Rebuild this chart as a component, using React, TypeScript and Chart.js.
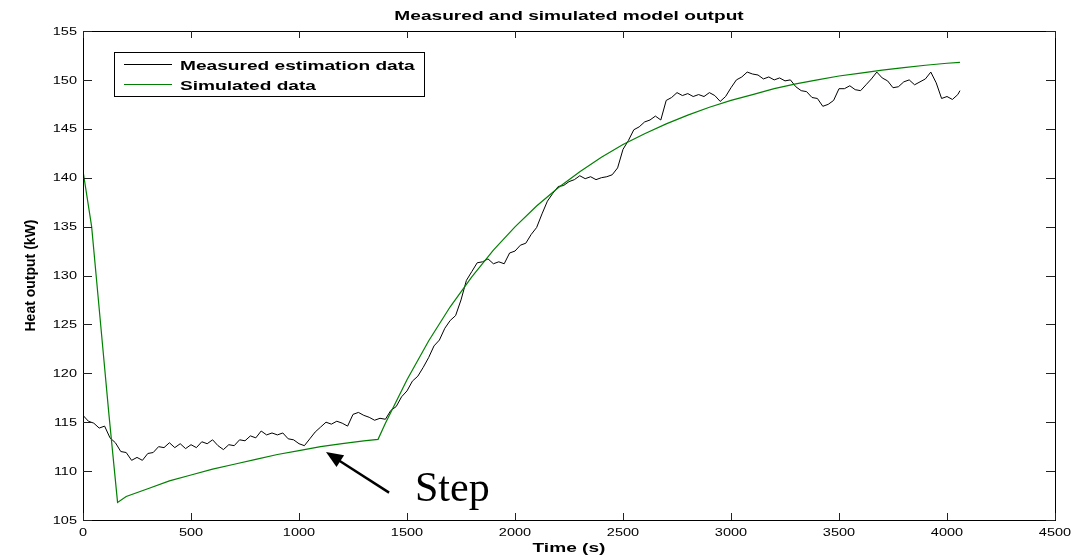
import React, { useEffect, useRef } from "react";
import { Chart, registerables } from "chart.js";

Chart.register(...registerables);

// ---------- data ----------
const measuredTime = [
  0, 25, 50, 75, 100, 125, 150, 175, 200, 225, 250, 275, 300, 325, 350, 375, 400, 425, 450, 475,
  500, 525, 550, 575, 600, 625, 650, 675, 700, 725, 750, 775, 800, 825, 850, 875, 900, 925, 950, 975,
  1000, 1025, 1050, 1075, 1100, 1125, 1150, 1175, 1200, 1225, 1250, 1275, 1300, 1325, 1350, 1375, 1400, 1425, 1450, 1475,
  1500, 1525, 1550, 1575, 1600, 1625, 1650, 1675, 1700, 1725, 1750, 1775, 1800, 1825, 1850, 1875, 1900, 1925, 1950, 1975,
  2000, 2025, 2050, 2075, 2100, 2125, 2150, 2175, 2200, 2225, 2250, 2275, 2300, 2325, 2350, 2375, 2400, 2425, 2450, 2475,
  2500, 2525, 2550, 2575, 2600, 2625, 2650, 2675, 2700, 2725, 2750, 2775, 2800, 2825, 2850, 2875, 2900, 2925, 2950, 2975,
  3000, 3025, 3050, 3075, 3100, 3125, 3150, 3175, 3200, 3225, 3250, 3275, 3300, 3325, 3350, 3375, 3400, 3425, 3450, 3475,
  3500, 3525, 3550, 3575, 3600, 3625, 3650, 3675, 3700, 3725, 3750, 3775, 3800, 3825, 3850, 3875, 3900, 3925, 3950, 3975,
  4000, 4025, 4050, 4060,
];

const measuredHeat = [
  115.7, 115.1, 114.9, 114.4, 114.6, 113.4, 112.9, 112.0, 111.9, 111.1, 111.4, 111.1, 111.8, 111.9, 112.5, 112.4, 112.9, 112.4, 112.8, 112.3,
  112.7, 112.4, 113.0, 112.8, 113.2, 112.6, 112.2, 112.7, 112.6, 113.2, 113.1, 113.6, 113.4, 114.1, 113.7, 113.9, 113.7, 113.9, 113.3, 113.2,
  112.8, 112.6, 113.3, 114.0, 114.5, 115.0, 114.8, 115.1, 114.9, 114.6, 115.8, 116.0, 115.7, 115.5, 115.2, 115.4, 115.3, 116.2, 116.6, 117.6,
  118.2, 119.2, 119.7, 120.6, 121.6, 122.8, 123.4, 124.6, 125.4, 125.9, 127.5, 129.5, 130.4, 131.3, 131.4, 131.7, 131.2, 131.4, 131.2, 132.3,
  132.5, 133.1, 133.3, 134.2, 134.9, 136.3, 137.6, 138.4, 139.1, 139.2, 139.6, 139.8, 140.2, 139.9, 140.1, 139.8, 140.0, 140.1, 140.3, 141.0,
  142.9, 143.8, 144.9, 145.2, 145.7, 145.9, 146.3, 145.9, 147.9, 148.2, 148.7, 148.4, 148.6, 148.3, 148.5, 148.3, 148.7, 148.4, 147.8, 148.3,
  149.2, 150.0, 150.3, 150.8, 150.6, 150.5, 150.1, 150.3, 150.0, 150.2, 149.9, 150.0, 149.3, 148.9, 148.8, 148.2, 148.1, 147.3, 147.5, 147.9,
  149.1, 149.1, 149.4, 149.0, 148.9, 149.5, 150.1, 150.8, 150.2, 149.9, 149.2, 149.3, 149.8, 150.0, 149.5, 149.8, 150.1, 150.8, 149.7, 148.1,
  148.3, 148.0, 148.5, 148.9,
];

const simulatedTime = [
  0, 40, 80, 120, 160, 200, 300, 400, 500, 600, 700, 800, 900, 1000, 1100, 1200, 1300, 1366,
  1400, 1500, 1600, 1700, 1800, 1900, 2000, 2100, 2200, 2300, 2400, 2500, 2600, 2700, 2800, 2900,
  3000, 3100, 3200, 3300, 3400, 3500, 3600, 3700, 3800, 3900, 4000, 4060,
];

const simulatedHeat = [
  140.7, 135.0, 125.4, 115.8, 106.8, 107.4, 108.2, 109.0, 109.6, 110.2, 110.7, 111.2, 111.7, 112.1, 112.5, 112.8, 113.1, 113.25,
  114.9, 119.35, 123.3, 126.8, 129.85, 132.6, 134.97, 137.1, 138.97, 140.6, 142.1, 143.4, 144.5, 145.5, 146.4, 147.2,
  147.9, 148.5, 149.1, 149.6, 150.0, 150.4, 150.7, 151.0, 151.25, 151.5, 151.7, 151.8,
];

const xMin = 0;
const xMax = 4500;
const xStep = 500;
const yMin = 105;
const yMax = 155;
const yStep = 5;

const chartTitle = "Measured and simulated model output";
const xAxisTitle = "Time (s)";
const yAxisTitle = "Heat output (kW)";
const legendLabels = ["Measured estimation data", "Simulated data"];
const seriesColors = ["#000000", "#008000"];

const annotationText = "Step";
const arrowTip = { x: 1125, y: 111.95 };
const arrowTail = { x: 1417, y: 107.8 };
const annotationAnchor = { x: 1537, y: 106.95 };

// ---------- drawing helpers ----------
const SANS = '"Liberation Sans", Arial, Helvetica, sans-serif';
const SERIF = '"Liberation Serif", "Times New Roman", serif';
const STRETCH = 1.47; // the reference is horizontally stretched

function stretchedText(
  ctx: CanvasRenderingContext2D,
  text: string,
  x: number,
  y: number,
  align: CanvasTextAlign,
  baseline: CanvasTextBaseline,
  font: string,
  sx = STRETCH,
  rotate = 0
) {
  ctx.save();
  ctx.translate(x, y);
  ctx.scale(sx, 1);
  if (rotate) ctx.rotate(rotate);
  ctx.font = font;
  ctx.textAlign = align;
  ctx.textBaseline = baseline;
  ctx.fillStyle = "#000";
  ctx.fillText(text, 0, 0);
  ctx.restore();
}

const matlabFrame = {
  id: "matlabFrame",
  afterDraw(chart: any) {
    const { ctx, chartArea } = chart;
    const { left, right, top, bottom } = chartArea;
    const xs = chart.scales.x;
    const ys = chart.scales.y;

    ctx.save();
    // axes box
    ctx.strokeStyle = "#000";
    ctx.lineWidth = 1;
    ctx.strokeRect(Math.round(left) + 0.5, Math.round(top) + 0.5, Math.round(right - left), Math.round(bottom - top));

    // inward ticks on all four sides
    ctx.strokeStyle = "#222";
    ctx.beginPath();
    xs.ticks.forEach((t: any) => {
      const px = Math.round(xs.getPixelForValue(t.value)) + 0.5;
      ctx.moveTo(px, bottom);
      ctx.lineTo(px, bottom - 7);
      ctx.moveTo(px, top);
      ctx.lineTo(px, top + 7);
    });
    ys.ticks.forEach((t: any) => {
      const py = Math.round(ys.getPixelForValue(t.value)) + 0.5;
      ctx.moveTo(left, py);
      ctx.lineTo(left + 9, py);
      ctx.moveTo(right, py);
      ctx.lineTo(right - 9, py);
    });
    ctx.stroke();

    // tick labels
    const tickFont = `10px ${SANS}`;
    xs.ticks.forEach((t: any) => {
      const px = xs.getPixelForValue(t.value);
      stretchedText(ctx, String(t.value), px, bottom + 16, "center", "alphabetic", tickFont, 1.45);
    });
    ys.ticks.forEach((t: any) => {
      const py = ys.getPixelForValue(t.value);
      stretchedText(ctx, String(t.value), left - 6, py + 3.6, "right", "alphabetic", tickFont, 1.45);
    });

    // titles
    const boldFont = `bold 13px ${SANS}`;
    const cx = (left + right) / 2;
    const cy = (top + bottom) / 2;
    stretchedText(ctx, chartTitle, cx, 19.5, "center", "alphabetic", boldFont);
    stretchedText(ctx, xAxisTitle, cx, 552, "center", "alphabetic", boldFont);
    stretchedText(ctx, yAxisTitle, 35, cy, "center", "alphabetic", `bold 14px ${SANS}`, 1, -Math.PI / 2);

    // legend
    const lx = 114.5, ly = 52.5, lw = 310, lh = 44;
    ctx.fillStyle = "#fff";
    ctx.fillRect(lx, ly, lw, lh);
    ctx.strokeStyle = "#000";
    ctx.lineWidth = 1;
    ctx.strokeRect(lx, ly, lw, lh);
    const rows = [64.5, 84.5];
    chart.data.datasets.forEach((ds: any, i: number) => {
      ctx.strokeStyle = ds.borderColor;
      ctx.lineWidth = 1;
      ctx.beginPath();
      ctx.moveTo(124, rows[i]);
      ctx.lineTo(172, rows[i]);
      ctx.stroke();
      stretchedText(ctx, ds.label, 180, rows[i] + 5.7, "left", "alphabetic", boldFont);
    });

    // "Step" annotation with arrow
    const tx = xs.getPixelForValue(arrowTip.x), ty = ys.getPixelForValue(arrowTip.y);
    const sx0 = xs.getPixelForValue(arrowTail.x), sy0 = ys.getPixelForValue(arrowTail.y);
    const dx = tx - sx0, dy = ty - sy0;
    const len = Math.hypot(dx, dy);
    const ux = dx / len, uy = dy / len;
    const headLen = 17, headHalf = 7;
    const bx = tx - ux * headLen, by = ty - uy * headLen;
    ctx.strokeStyle = "#000";
    ctx.lineWidth = 2.4;
    ctx.beginPath();
    ctx.moveTo(sx0, sy0);
    ctx.lineTo(bx + ux * 2, by + uy * 2);
    ctx.stroke();
    ctx.fillStyle = "#000";
    ctx.beginPath();
    ctx.moveTo(tx, ty);
    ctx.lineTo(bx - uy * headHalf, by + ux * headHalf);
    ctx.lineTo(bx + uy * headHalf, by - ux * headHalf);
    ctx.closePath();
    ctx.fill();

    ctx.font = `42px ${SERIF}`;
    ctx.textAlign = "left";
    ctx.textBaseline = "alphabetic";
    ctx.fillStyle = "#000";
    ctx.fillText(annotationText, xs.getPixelForValue(annotationAnchor.x), ys.getPixelForValue(annotationAnchor.y));
    ctx.restore();
  },
};

export default function App() {
  const canvasRef = useRef<HTMLCanvasElement | null>(null);

  useEffect(() => {
    const canvas = canvasRef.current;
    if (!canvas) return;
    const chart = new Chart(canvas, {
      type: "line",
      data: {
        datasets: [
          {
            label: legendLabels[0],
            data: measuredTime.map((t, i) => ({ x: t, y: measuredHeat[i] })),
            borderColor: seriesColors[0],
            borderWidth: 1,
            pointRadius: 0,
            tension: 0,
            fill: false,
            order: 2,
          },
          {
            label: legendLabels[1],
            data: simulatedTime.map((t, i) => ({ x: t, y: simulatedHeat[i] })),
            borderColor: seriesColors[1],
            borderWidth: 1.2,
            pointRadius: 0,
            tension: 0,
            fill: false,
            order: 1,
          },
        ],
      },
      options: {
        animation: false,
        responsive: false,
        maintainAspectRatio: false,
        devicePixelRatio: 1,
        events: [],
        layout: { padding: { top: 31, right: 29, left: 0, bottom: 0 } },
        plugins: {
          legend: { display: false },
          title: { display: false },
          tooltip: { enabled: false },
        },
        scales: {
          x: {
            type: "linear",
            min: xMin,
            max: xMax,
            ticks: { display: false, stepSize: xStep },
            grid: { display: false },
            border: { display: false },
            afterFit: (s: any) => {
              s.height = 37;
            },
          },
          y: {
            type: "linear",
            min: yMin,
            max: yMax,
            ticks: { display: false, stepSize: yStep },
            grid: { display: false },
            border: { display: false },
            afterFit: (s: any) => {
              s.width = 83;
            },
          },
        },
      } as any,
      plugins: [matlabFrame],
    });
    return () => chart.destroy();
  }, []);

  return (
    <div style={{ position: "absolute", left: 0, top: 0, width: 1084, height: 557, background: "#fff" }}>
      <canvas ref={canvasRef} width={1084} height={557} style={{ display: "block" }} />
    </div>
  );
}
